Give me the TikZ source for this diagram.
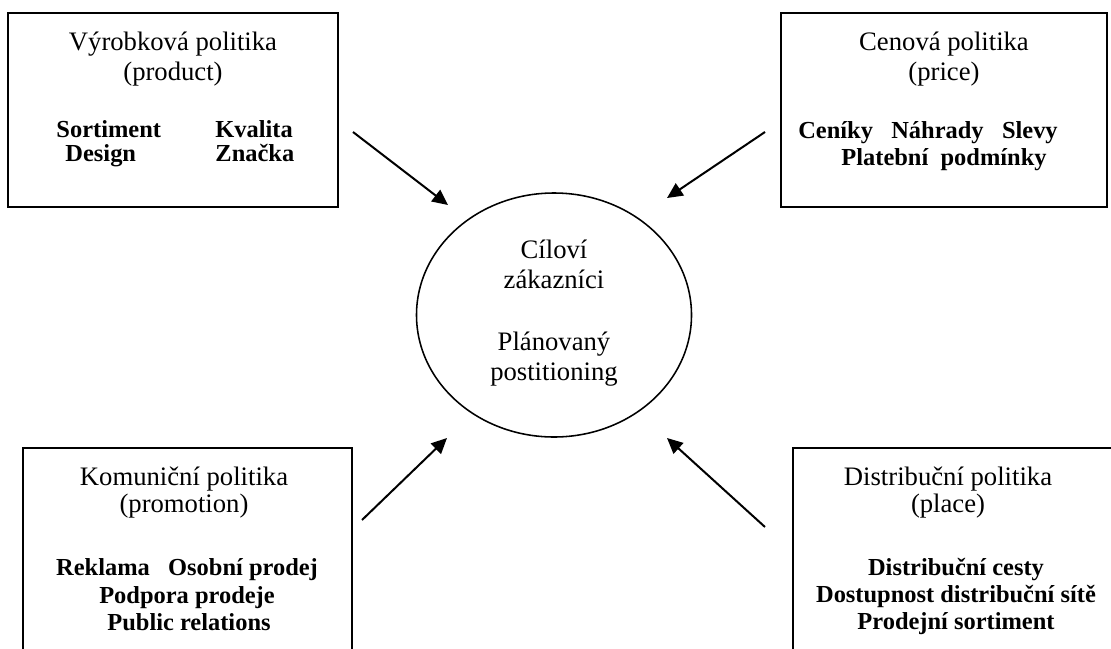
\documentclass[tikz,border=0pt]{standalone}
\usepackage{fontspec}
\setmainfont{Liberation Serif}
\usetikzlibrary{arrows.meta,shapes.geometric}
\begin{document}
\begin{tikzpicture}[x=0.45pt,y=-0.45pt,
  box/.style={draw,line width=0.9pt,inner sep=0pt,minimum height=87.3pt},
  lowbox/.style={draw,line width=0.9pt,inner sep=0pt,minimum height=122.4pt},
  head/.style={anchor=base,inner sep=0pt,font=\fontsize{12}{14}\selectfont},
  item/.style={head,font=\fontsize{11}{13}\selectfont\bfseries},
  arr/.style={line width=0.9pt,-{Triangle[length=7pt,width=6.5pt]}}]
\useasboundingbox (0,0) rectangle (1111,648);
\clip (0,0) rectangle (1111,648);
% boxes
\node[box,minimum width=148.5pt] (prod) at (173,110) {};
\node[box,minimum width=146.7pt] (price) at (944,110) {};
\node[lowbox,minimum width=148pt] (promo) at (187.5,584) {};
\node[lowbox,minimum width=149.4pt] (place) at (959,584) {};
\node[draw,ellipse,line width=0.7pt,inner sep=0pt,minimum width=123.75pt,minimum height=109.8pt] (target) at (554,315) {};
% product
\node[head] (prodh) at (173,50) {Výrobková politika};
\node[head] (prods) at (173,80) {(product)};
\node[item,anchor=base west] (sort) at (56,137) {Sortiment};
\node[item,anchor=base west] (kval) at (215,137) {Kvalita};
\node[item,anchor=base west] (des) at (65,161) {Design};
\node[item,anchor=base west] (zn) at (215,161) {Značka};
% price
\node[head] (priceh) at (944,50) {Cenová politika};
\node[head] (prices) at (944,80) {(price)};
\node[item] (cen) at (928,138) {Ceníky\ \ \ Náhrady\ \ \ Slevy};
\node[item] (plat) at (944,165) {Platební\ \ podmínky};
% promotion
\node[head] (promoh) at (184,485) {Komuniční politika};
\node[head] (promos) at (184,512) {(promotion)};
\node[item] (rekl) at (187,575) {Reklama\ \ \ Osobní prodej};
\node[item] (podp) at (187,603) {Podpora prodeje};
\node[item] (pr) at (189,630) {Public relations};
% place
\node[head] (placeh) at (948,485) {Distribuční politika};
\node[head] (places) at (948,512) {(place)};
\node[item] (dcest) at (956,575) {Distribuční cesty};
\node[item] (dost) at (956,602) {Dostupnost distribuční sítě};
\node[item] (prodsort) at (956,629) {Prodejní sortiment};
% target
\node[head] (cil) at (554,258) {Cíloví};
\node[head] (zak) at (554,288) {zákazníci};
\node[head] (plan) at (554,350) {Plánovaný};
\node[head] (pos) at (554,380) {postitioning};
% arrows
\coordinate (a1) at (353,132);
\coordinate (b1) at (448,205);
\coordinate (a2) at (765,132);
\coordinate (b2) at (667,198);
\coordinate (a3) at (362,520);
\coordinate (b3) at (447,438);
\coordinate (a4) at (765,527);
\coordinate (b4) at (667,438);
\draw[arr] (a1) -- (b1);
\draw[arr] (a2) -- (b2);
\draw[arr] (a3) -- (b3);
\draw[arr] (a4) -- (b4);
\end{tikzpicture}
\end{document}
